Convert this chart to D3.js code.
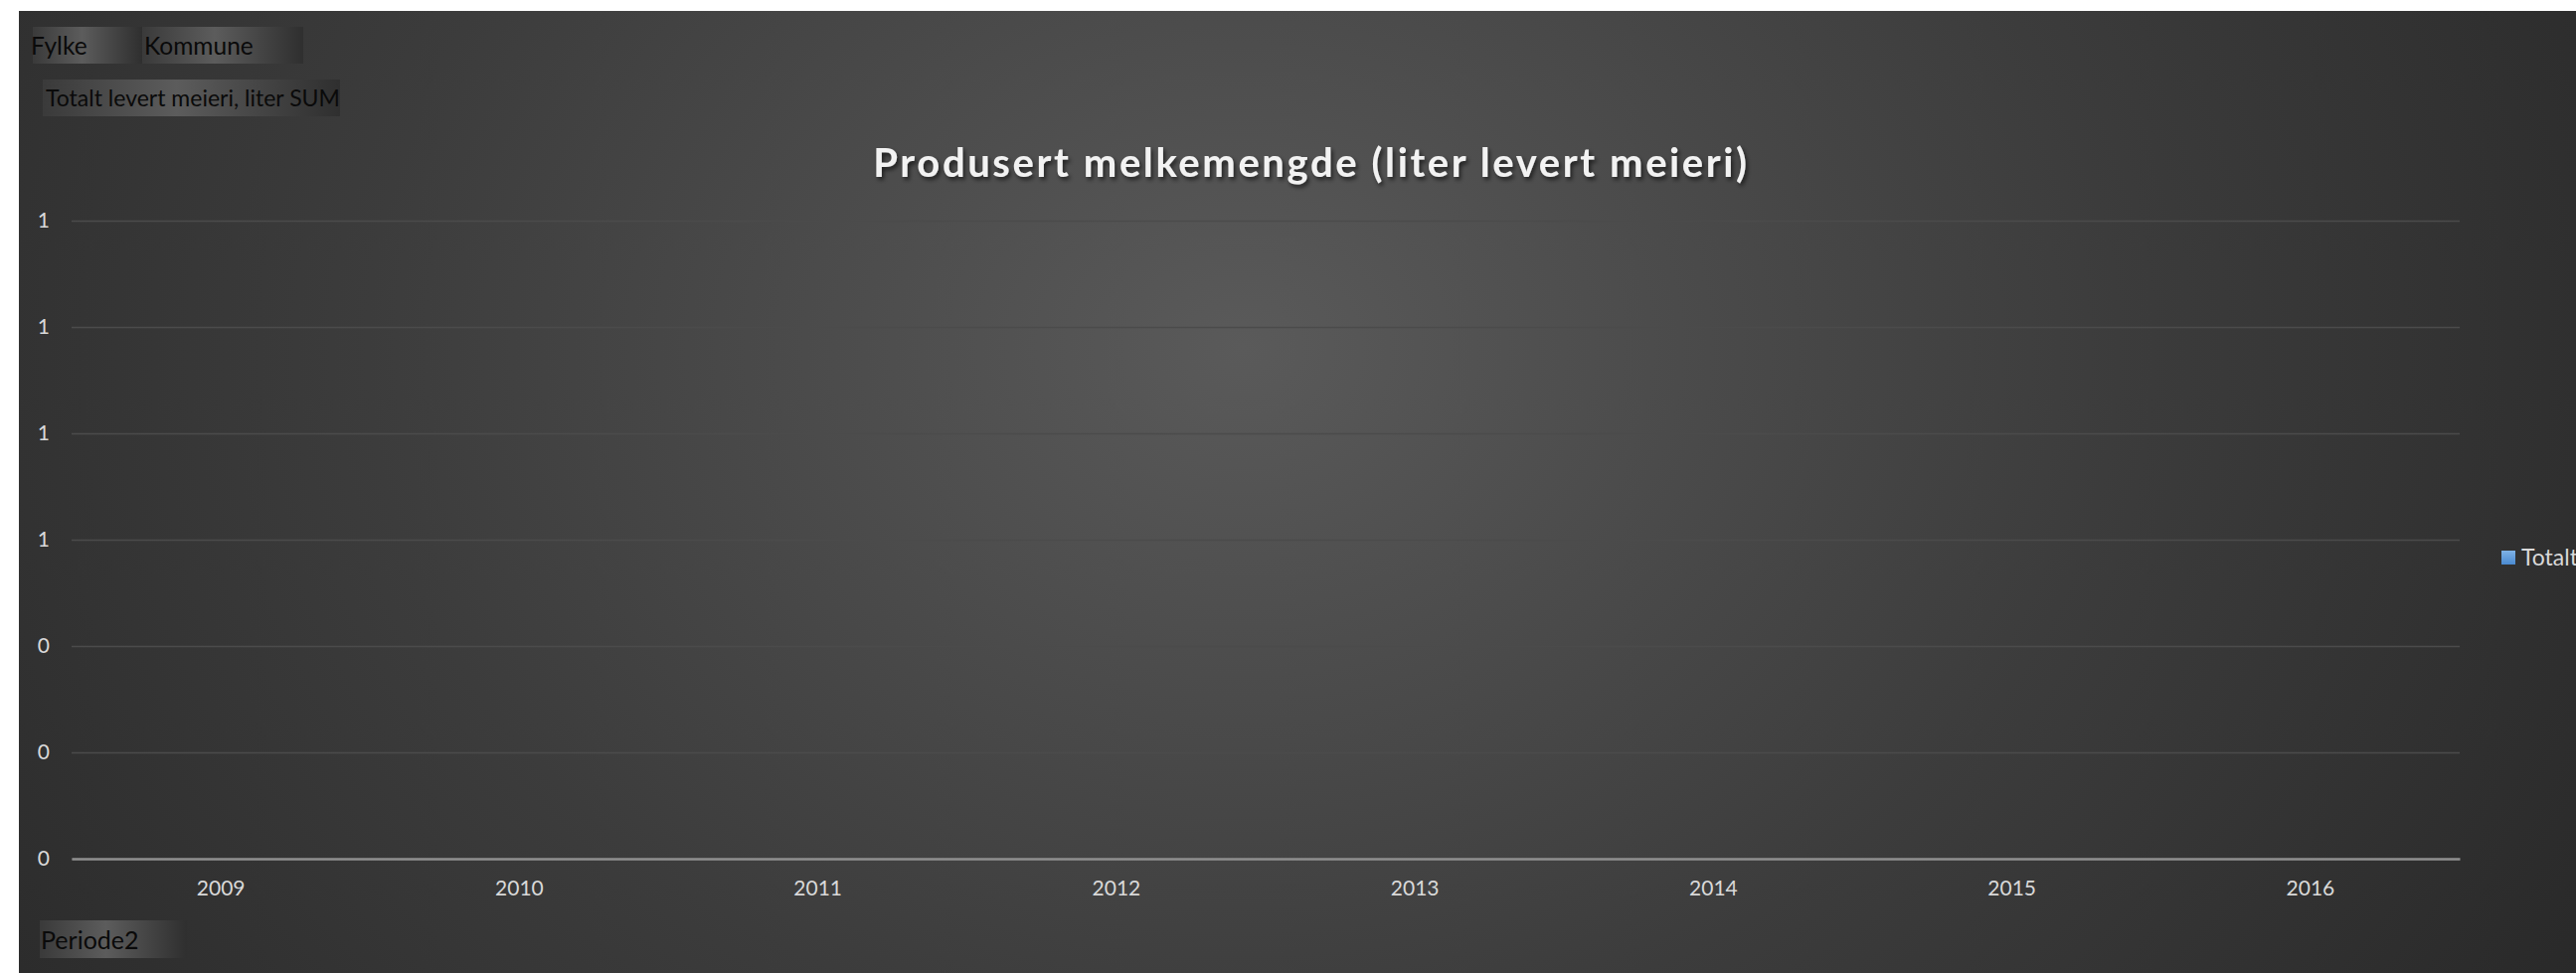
<!DOCTYPE html>
<html>
<head>
<meta charset="utf-8">
<script src="https://cdn.jsdelivr.net/npm/d3@7"></script>
<style>
  body { margin: 0; background: #fff; overflow: hidden; }
  text { font-family: Lato, "Open Sans", sans-serif; }
</style>
</head>
<body>
<div id="root"></div>
<script>
// data
const years = ['2009', '2010', '2011', '2012', '2013', '2014', '2015', '2016'];
const totalt = [0, 0, 0, 0, 0, 0, 0, 0];
const yTicks = [0, 0.2, 0.4, 0.6, 0.8, 1.0, 1.2];
const seriesName = 'Totalt';
const title = 'Produsert melkemengde (liter levert meieri)';
const topButtons = ['Fylke', 'Kommune'];
const valueButton = 'Totalt levert meieri, liter SUM';
const axisButton = 'Periode2';

const W = 2591, H = 979;
const svg = d3.select('#root').append('svg').attr('width', W).attr('height', H);
const defs = svg.append('defs');

const bg = defs.append('radialGradient').attr('id', 'bg')
  .attr('gradientUnits', 'userSpaceOnUse')
  .attr('cx', 1250).attr('cy', 350).attr('r', 1600)
  .attr('gradientTransform', 'translate(1250,350) scale(1,0.8) translate(-1250,-350)');
bg.append('stop').attr('offset', '0%').attr('stop-color', '#5a5a5a');
bg.append('stop').attr('offset', '55%').attr('stop-color', '#3c3c3c');
bg.append('stop').attr('offset', '100%').attr('stop-color', '#282828');

const btn = defs.append('linearGradient').attr('id', 'btn');
btn.append('stop').attr('offset', '0%').attr('stop-color', '#3a3a3a');
btn.append('stop').attr('offset', '45%').attr('stop-color', '#5c5c5c');
btn.append('stop').attr('offset', '100%').attr('stop-color', '#2f2f2f');

const leg = defs.append('linearGradient').attr('id', 'leg').attr('x1', 0).attr('y1', 0).attr('x2', 0).attr('y2', 1);
leg.append('stop').attr('offset', '0%').attr('stop-color', '#7fb2e5');
leg.append('stop').attr('offset', '100%').attr('stop-color', '#4a8ad0');

const shadow = defs.append('filter').attr('id', 'shadow')
  .attr('x', '-5%').attr('y', '-30%').attr('width', '110%').attr('height', '160%');
shadow.append('feDropShadow').attr('dx', 2).attr('dy', 3).attr('stdDeviation', 2)
  .attr('flood-color', '#000').attr('flood-opacity', 0.6);

svg.append('rect').attr('x', 19).attr('y', 11).attr('width', W - 19).attr('height', H - 11)
  .attr('fill', 'url(#bg)');

// field buttons
const topX = [33, 143], topW = [110, 162];
topButtons.forEach((t, i) => {
  svg.append('rect').attr('x', topX[i]).attr('y', 27).attr('width', topW[i]).attr('height', 37)
    .attr('fill', 'url(#btn)');
  svg.append('text').attr('x', i === 0 ? 31 : 145).attr('y', 55)
    .attr('font-size', 24.5).attr('fill', '#0a0a0a').text(t);
});
svg.append('rect').attr('x', 43).attr('y', 80).attr('width', 299).attr('height', 37).attr('fill', 'url(#btn)');
svg.append('text').attr('x', 46).attr('y', 107).attr('font-size', 23).attr('fill', '#0a0a0a').text(valueButton);
svg.append('rect').attr('x', 40).attr('y', 926).attr('width', 148).attr('height', 38).attr('fill', 'url(#btn)');
svg.append('text').attr('x', 41).attr('y', 955).attr('font-size', 25).attr('fill', '#0a0a0a').text(axisButton);

// title
svg.append('text').attr('x', 1319).attr('y', 178).attr('text-anchor', 'middle')
  .attr('font-size', 40).attr('font-weight', 'bold').attr('letter-spacing', 2.6)
  .attr('fill', '#f2f2f2').attr('filter', 'url(#shadow)').text(title);

// scales
const x = d3.scaleBand().domain(years).range([72, 2474]).paddingInner(0.2).paddingOuter(0.1);
const y = d3.scaleLinear().domain([0, 1.2]).range([864, 222]);

const gy = svg.append('g').attr('transform', 'translate(72,0)')
  .call(d3.axisLeft(y).tickValues(yTicks).tickFormat(d3.format('.0f'))
    .tickSize(-(2474 - 72)).tickPadding(22));
gy.select('.domain').remove();
gy.selectAll('.tick line').attr('stroke', '#4b4b4b').attr('stroke-width', 1.5);
gy.selectAll('.tick text').attr('fill', '#d9d9d9').attr('font-size', 21)
  .attr('font-family', 'Lato, sans-serif');

svg.append('g').selectAll('rect').data(totalt).join('rect')
  .attr('x', (d, i) => x(years[i])).attr('width', x.bandwidth())
  .attr('y', d => y(d)).attr('height', d => y(0) - y(d))
  .attr('fill', 'url(#leg)');

const gx = svg.append('g').attr('transform', `translate(0,${y(0)})`)
  .call(d3.axisBottom(x).tickSize(0).tickPadding(22));
gx.select('.domain').attr('stroke', '#8f8f8f').attr('stroke-width', 2.5);
gx.selectAll('.tick text').attr('fill', '#d9d9d9').attr('font-size', 21)
  .attr('font-family', 'Lato, sans-serif');

// legend
svg.append('rect').attr('x', 2516).attr('y', 554).attr('width', 14).attr('height', 14).attr('fill', 'url(#leg)');
svg.append('text').attr('x', 2536).attr('y', 569).attr('font-size', 23).attr('fill', '#d9d9d9').text(seriesName);
</script>
</body>
</html>
